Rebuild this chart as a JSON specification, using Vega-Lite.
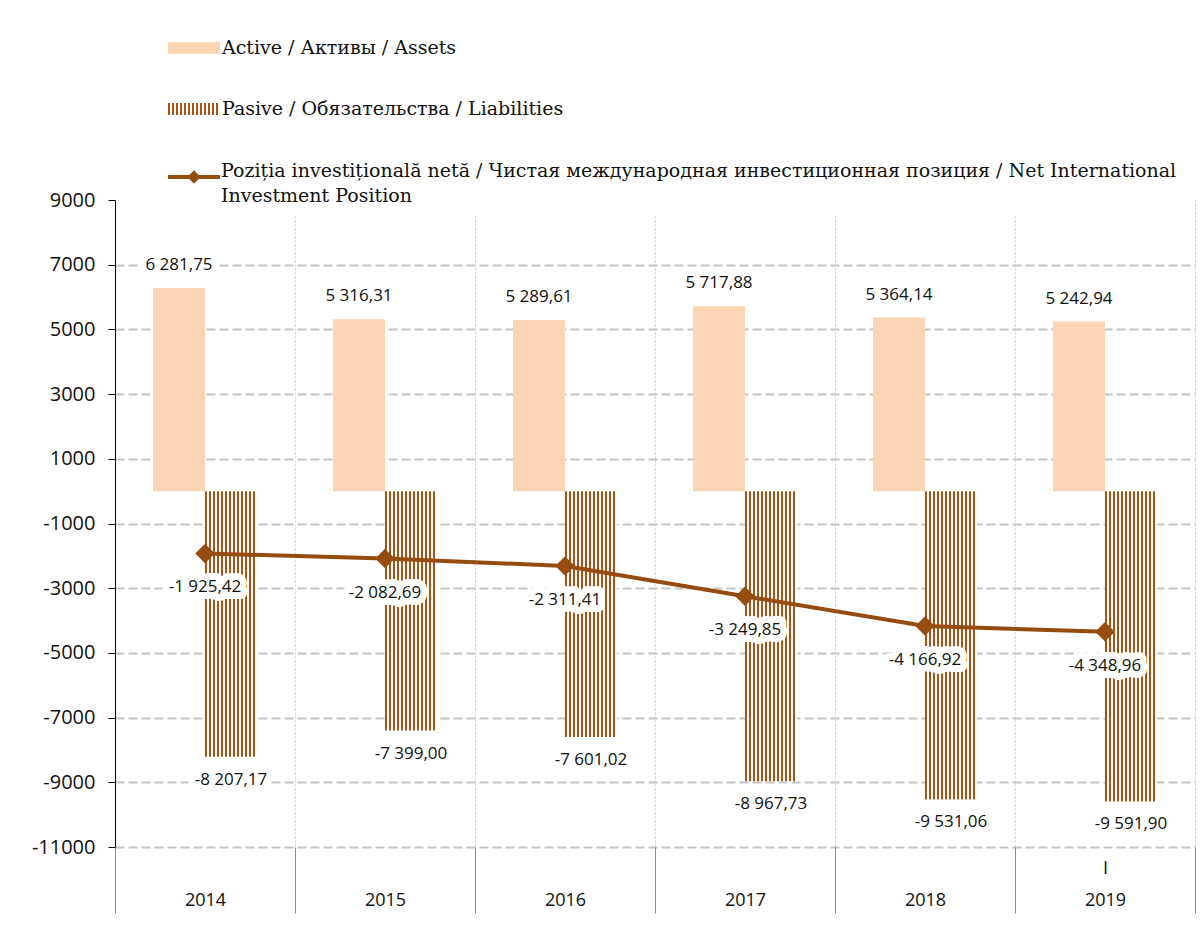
{
  "$schema": "https://vega.github.io/schema/vega-lite/v6.json",
  "width": 1080,
  "height": 647,
  "autosize": {"type": "none"},
  "padding": {"left": 115, "top": 200, "right": 9, "bottom": 91},
  "background": "white",
  "config": {
    "view": {"stroke": null},
    "locale": {"number": {"decimal": ",", "thousands": " ", "grouping": [3], "currency": ["", ""], "minus": "-"}},
    "text": {"font": "Open Sans", "fontSize": 17, "color": "#111111"},
    "style": {"guide-label": {"lineHeight": 25}}
  },
  "datasets": {
    "bars": [
      {"year": "2014", "series": "Active / Активы / Assets", "value": 6281.75},
      {"year": "2015", "series": "Active / Активы / Assets", "value": 5316.31},
      {"year": "2016", "series": "Active / Активы / Assets", "value": 5289.61},
      {"year": "2017", "series": "Active / Активы / Assets", "value": 5717.88},
      {"year": "2018", "series": "Active / Активы / Assets", "value": 5364.14},
      {"year": "2019", "series": "Active / Активы / Assets", "value": 5242.94},
      {"year": "2014", "series": "Pasive / Обязательства / Liabilities", "value": -8207.17},
      {"year": "2015", "series": "Pasive / Обязательства / Liabilities", "value": -7399.00},
      {"year": "2016", "series": "Pasive / Обязательства / Liabilities", "value": -7601.02},
      {"year": "2017", "series": "Pasive / Обязательства / Liabilities", "value": -8967.73},
      {"year": "2018", "series": "Pasive / Обязательства / Liabilities", "value": -9531.06},
      {"year": "2019", "series": "Pasive / Обязательства / Liabilities", "value": -9591.90}
    ],
    "niip": [
      {"year": "2014", "niip": -1925.42},
      {"year": "2015", "niip": -2082.69},
      {"year": "2016", "niip": -2311.41},
      {"year": "2017", "niip": -3249.85},
      {"year": "2018", "niip": -4166.92},
      {"year": "2019", "niip": -4348.96}
    ]
  },
  "encoding": {
    "x": {
      "field": "year", "type": "ordinal",
      "scale": {"paddingInner": 0, "paddingOuter": 0},
      "axis": {
        "title": null, "labelAngle": 0, "domain": false,
        "grid": true, "gridDash": [2, 2], "gridColor": "#cfcfcf", "gridWidth": 1,
        "tickBand": "extent", "ticks": true, "tickColor": "#8c8c8c", "tickSize": 66, "tickWidth": 1,
        "labelFont": "Open Sans", "labelFontSize": 18, "labelColor": "#111111",
        "labelBaseline": "top", "labelLineHeight": 32, "labelPadding": -54,
        "labelExpr": "datum.label == '2019' ? ['I', '2019'] : ['', datum.label]"
      }
    },
    "y": {
      "type": "quantitative",
      "scale": {"domain": [-11000, 9000], "nice": false, "zero": false},
      "axis": {
        "title": null,
        "values": [-11000, -9000, -7000, -5000, -3000, -1000, 1000, 3000, 5000, 7000, 9000],
        "format": "d",
        "labelFont": "Open Sans", "labelFontSize": 20, "labelColor": "#111111", "labelPadding": 13,
        "domainColor": "#000000", "domainWidth": 1,
        "tickColor": "#000000", "tickSize": 7,
        "grid": true, "gridColor": "#c4c4c4", "gridDash": [9, 4], "gridWidth": 2,
        "gridOpacity": {"condition": {"test": "datum.value === 9000", "value": 0}, "value": 1}
      }
    }
  },
  "layer": [
    {
      "data": {"name": "bars"},
      "mark": {"type": "bar"},
      "encoding": {
        "xOffset": {"field": "series", "type": "nominal", "scale": {"paddingInner": 0, "paddingOuter": 0.7308}},
        "y": {"field": "value", "type": "quantitative"},
        "fill": {
          "field": "series", "type": "nominal",
          "scale": {
            "domain": ["Active / Активы / Assets", "Pasive / Обязательства / Liabilities"],
            "range": [
              "#fcd5b5",
              {"expr": "{gradient: 'linear', x1: 0, y1: 0, x2: 1, y2: 0, stops: [{offset: 0, color: '#a85415'}, {offset: 0.0385, color: '#a85415'}, {offset: 0.0385, color: '#ffffff'}, {offset: 0.0769, color: '#ffffff'}, {offset: 0.0769, color: '#a85415'}, {offset: 0.1154, color: '#a85415'}, {offset: 0.1154, color: '#ffffff'}, {offset: 0.1538, color: '#ffffff'}, {offset: 0.1538, color: '#a85415'}, {offset: 0.1923, color: '#a85415'}, {offset: 0.1923, color: '#ffffff'}, {offset: 0.2308, color: '#ffffff'}, {offset: 0.2308, color: '#a85415'}, {offset: 0.2692, color: '#a85415'}, {offset: 0.2692, color: '#ffffff'}, {offset: 0.3077, color: '#ffffff'}, {offset: 0.3077, color: '#a85415'}, {offset: 0.3462, color: '#a85415'}, {offset: 0.3462, color: '#ffffff'}, {offset: 0.3846, color: '#ffffff'}, {offset: 0.3846, color: '#a85415'}, {offset: 0.4231, color: '#a85415'}, {offset: 0.4231, color: '#ffffff'}, {offset: 0.4615, color: '#ffffff'}, {offset: 0.4615, color: '#a85415'}, {offset: 0.5, color: '#a85415'}, {offset: 0.5, color: '#ffffff'}, {offset: 0.5385, color: '#ffffff'}, {offset: 0.5385, color: '#a85415'}, {offset: 0.5769, color: '#a85415'}, {offset: 0.5769, color: '#ffffff'}, {offset: 0.6154, color: '#ffffff'}, {offset: 0.6154, color: '#a85415'}, {offset: 0.6538, color: '#a85415'}, {offset: 0.6538, color: '#ffffff'}, {offset: 0.6923, color: '#ffffff'}, {offset: 0.6923, color: '#a85415'}, {offset: 0.7308, color: '#a85415'}, {offset: 0.7308, color: '#ffffff'}, {offset: 0.7692, color: '#ffffff'}, {offset: 0.7692, color: '#a85415'}, {offset: 0.8077, color: '#a85415'}, {offset: 0.8077, color: '#ffffff'}, {offset: 0.8462, color: '#ffffff'}, {offset: 0.8462, color: '#a85415'}, {offset: 0.8846, color: '#a85415'}, {offset: 0.8846, color: '#ffffff'}, {offset: 0.9231, color: '#ffffff'}, {offset: 0.9231, color: '#a85415'}, {offset: 0.9615, color: '#a85415'}, {offset: 0.9615, color: '#ffffff'}, {offset: 1, color: '#ffffff'}]}"}
            ]
          },
          "legend": {
            "title": null, "orient": "none", "legendX": 53, "legendY": -178,
            "direction": "vertical", "padding": 0, "rowPadding": 25,
            "symbolType": "M-1,-0.23H1V0.23H-1Z", "symbolSize": 2704, "symbolStrokeWidth": 0, "symbolOpacity": 1,
            "labelFont": "DejaVu Serif", "labelFontSize": 19, "labelColor": "#111111", "labelOffset": 2, "labelLimit": 1100
          }
        }
      }
    },
    {
      "mark": {"type": "rule", "color": "#000000", "strokeWidth": 1.5},
      "encoding": {"y": {"datum": 0}}
    },
    {
      "data": {"name": "niip"},
      "mark": {"type": "line", "strokeWidth": 4},
      "encoding": {
        "y": {"field": "niip", "type": "quantitative"},
        "stroke": {
          "datum": "NIIP",
          "scale": {"domain": ["NIIP"], "range": ["#964b0f"]},
          "legend": {
            "title": null, "orient": "none", "legendX": 43, "legendY": -59,
            "padding": 8, "fillColor": "white",
            "symbolType": "M-1,0H1M-0.15,0L0,-0.15L0.15,0L0,0.15Z", "symbolSize": 2704, "symbolStrokeWidth": 4,
            "symbolFillColor": "#964b0f", "symbolOpacity": 1,
            "labelFont": "DejaVu Serif", "labelFontSize": 19, "labelColor": "#111111", "labelOffset": -1, "labelLimit": 1100,
            "labelBaseline": "alphabetic",
            "labelExpr": "['Poziția investițională netă / Чистая международная инвестиционная позиция / Net International', 'Investment Position']"
          }
        }
      }
    },
    {
      "data": {"name": "niip"},
      "mark": {"type": "point", "shape": "diamond", "size": 380, "filled": true, "color": "#964b0f", "opacity": 1},
      "encoding": {"y": {"field": "niip", "type": "quantitative"}}
    },
    {
      "data": {"name": "bars"},
      "transform": [{"filter": "datum.value > 0"}],
      "mark": {"type": "text", "dx": -26, "dy": -23, "stroke": "white", "strokeWidth": 14, "strokeJoin": "round"},
      "encoding": {"y": {"field": "value", "type": "quantitative"}, "text": {"field": "value", "format": ",.2f"}}
    },
    {
      "data": {"name": "bars"},
      "transform": [{"filter": "datum.value > 0"}],
      "mark": {"type": "text", "dx": -26, "dy": -23},
      "encoding": {"y": {"field": "value", "type": "quantitative"}, "text": {"field": "value", "format": ",.2f"}}
    },
    {
      "data": {"name": "bars"},
      "transform": [{"filter": "datum.value < 0"}],
      "mark": {"type": "text", "dx": 26, "dy": 23, "stroke": "white", "strokeWidth": 14, "strokeJoin": "round"},
      "encoding": {"y": {"field": "value", "type": "quantitative"}, "text": {"field": "value", "format": ",.2f"}}
    },
    {
      "data": {"name": "bars"},
      "transform": [{"filter": "datum.value < 0"}],
      "mark": {"type": "text", "dx": 26, "dy": 23},
      "encoding": {"y": {"field": "value", "type": "quantitative"}, "text": {"field": "value", "format": ",.2f"}}
    },
    {
      "data": {"name": "niip"},
      "mark": {"type": "text", "dy": 34, "stroke": "white", "strokeWidth": 14, "strokeJoin": "round"},
      "encoding": {"y": {"field": "niip", "type": "quantitative"}, "text": {"field": "niip", "format": ",.2f"}}
    },
    {
      "data": {"name": "niip"},
      "mark": {"type": "text", "dy": 34},
      "encoding": {"y": {"field": "niip", "type": "quantitative"}, "text": {"field": "niip", "format": ",.2f"}}
    }
  ],
  "resolve": {"scale": {"fill": "independent", "stroke": "independent"}}
}
